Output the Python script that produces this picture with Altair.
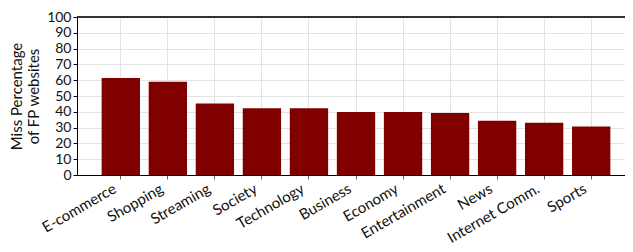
import altair as alt
import pandas as pd

categories = ["E-commerce", "Shopping", "Streaming", "Society", "Technology",
              "Business", "Economy", "Entertainment", "News", "Internet Comm.", "Sports"]
miss_pct = [61.4, 59.0, 45.2, 42.2, 42.2, 39.8, 39.8, 39.2, 34.3, 33.1, 30.7]
y_ticks = list(range(0, 101, 10))

df = pd.DataFrame({"category": categories, "miss": miss_pct})

FONT = "Lato"
W = 548
H = 158
X_SPAN = 558

bars = alt.Chart(df).mark_bar(color="#800000").encode(
    x=alt.X("category:N", sort=categories,
            scale=alt.Scale(range=[0, X_SPAN], paddingInner=0.185, paddingOuter=0.524),
            axis=alt.Axis(title=None, labelAngle=-30, labelAlign="right",
                          labelBaseline="middle", labelFontSize=15, labelFont=FONT,
                          labelColor="#111", grid=True, gridColor="#e3e3e3",
                          tickColor="#666", tickSize=4, domainColor="#000",
                          labelPadding=8, labelOffset=-6)),
    y=alt.Y("miss:Q", scale=alt.Scale(domain=[0, 100], nice=False),
            axis=alt.Axis(title=["Miss Percentage", "of FP websites"], values=y_ticks,
                          titleFont=FONT, titleFontSize=15, titleFontWeight="normal",
                          titleColor="#111", titlePadding=5,
                          labelFont=FONT, labelFontSize=14, labelColor="#111",
                          gridColor="#e3e3e3", tickColor="#000", tickSize=4,
                          domainColor="#000", labelPadding=2)),
)

top_line = alt.Chart(df).mark_rule(color="#333", strokeWidth=1.2).encode(
    x=alt.value(0), x2=alt.value(X_SPAN), y=alt.value(0)
)

chart = alt.layer(bars, top_line).properties(
    width=W, height=H,
    autosize=alt.AutoSizeParams(type="none"),
    padding={"left": 69, "top": 9, "right": 0, "bottom": 72},
).configure_view(stroke=None)

chart.save("out.html", embed_options={"renderer": "svg", "actions": False})
